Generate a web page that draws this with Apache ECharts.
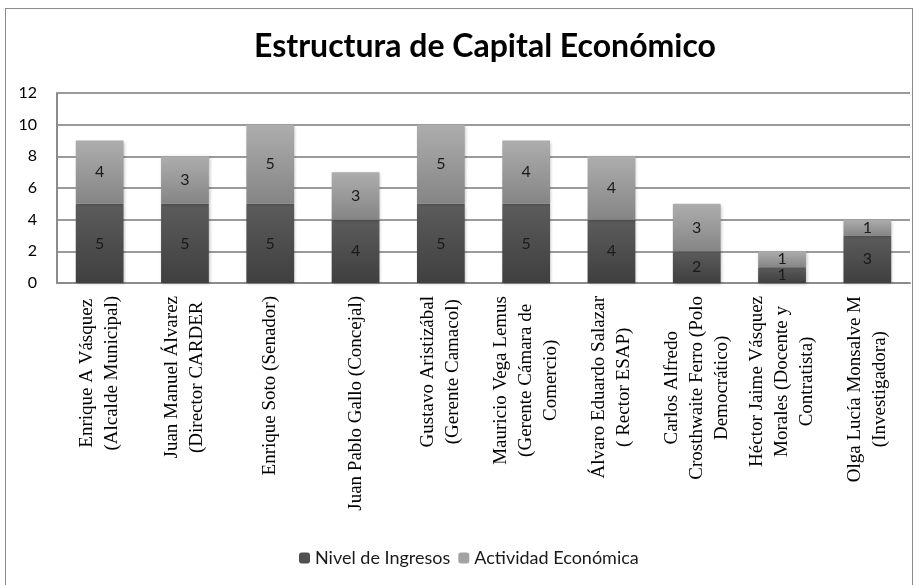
<!DOCTYPE html>
<html>
<head>
<meta charset="utf-8">
<script src="https://cdn.jsdelivr.net/npm/echarts@6/dist/echarts.min.js"></script>
<style>
  body { margin: 0; background: #fff; }
  #frame { position: absolute; left: 5px; top: 8px; width: 906px; height: 590px; border: 1px solid #8c8c8c; }
  #chart { position: absolute; left: 0; top: 0; width: 919px; height: 585px; }
</style>
</head>
<body>
<div id="frame"></div>
<div id="chart"></div>
<script>
// etiquetas de las categorias (una linea por elemento)
const categories = [
  ['Enrique A Vásquez', '(Alcalde Municipal)'],
  ['Juan Manuel Álvarez', '(Director CARDER'],
  ['Enrique Soto (Senador)'],
  ['Juan Pablo Gallo (Concejal)'],
  ['Gustavo Aristizábal', '(Gerente Camacol)'],
  ['Mauricio Vega Lemus', '(Gerente Cámara de', 'Comercio)'],
  ['Álvaro Eduardo Salazar', '( Rector ESAP)'],
  ['Carlos Alfredo', 'Crosthwaite Ferro (Polo', 'Democrático)'],
  ['Héctor Jaime Vásquez', 'Morales (Docente y', 'Contratista)'],
  ['Olga Lucía Monsalve M', '(Investigadora)']
];
const nivelIngresos = [5, 5, 5, 4, 5, 5, 4, 2, 1, 3];
const actividadEconomica = [4, 3, 5, 3, 5, 4, 4, 3, 1, 1];
const yTicks = [0, 2, 4, 6, 8, 10, 12];

const chart = echarts.init(document.getElementById('chart'));

const dataLabel = {
  show: true,
  position: 'inside',
  color: '#1a1a1a',
  fontFamily: 'Lato',
  fontSize: 16
};

const option = {
  animation: false,
  title: {
    text: 'Estructura de Capital Económico',
    left: 249,
    top: 26,
    textStyle: { fontFamily: 'Lato', fontWeight: 'bold', fontSize: 32, color: '#000' }
  },
  legend: {
    bottom: 13,
    left: 294,
    itemWidth: 11,
    itemHeight: 11,
    itemGap: 8,
    textStyle: { fontFamily: 'Lato', fontSize: 18, color: '#1a1a1a' },
    data: [
      { name: 'Nivel de Ingresos', itemStyle: { color: '#505050' } },
      { name: 'Actividad Económica', itemStyle: { color: '#a3a3a3' } }
    ]
  },
  grid: { left: 57, right: 9, top: 93, bottom: 302 },
  xAxis: {
    type: 'category',
    data: categories.map(c => c.join('\n')),
    axisLine: { lineStyle: { color: '#8c8c8c', width: 2 } },
    axisTick: { show: false },
    axisLabel: {
      interval: 0,
      rotate: 90,
      margin: 13,
      formatter: v => v.split('\n').map(l => '{c|' + l + '}').join('\n'),
      rich: {
        c: { align: 'center', fontFamily: 'Liberation Serif', fontSize: 19, lineHeight: 25, color: '#000' }
      }
    }
  },
  yAxis: {
    type: 'value',
    min: yTicks[0],
    max: yTicks[yTicks.length - 1],
    interval: 2,
    axisLine: { show: true, lineStyle: { color: '#8c8c8c', width: 2 } },
    axisTick: { show: false },
    axisLabel: { color: '#000', fontFamily: 'Lato', fontSize: 16, margin: 20 },
    splitLine: { lineStyle: { color: '#9a9a9a', width: 2 } }
  },
  series: [
    {
      name: 'Nivel de Ingresos',
      type: 'bar',
      stack: 'total',
      barWidth: '56%',
      data: nivelIngresos,
      label: dataLabel,
      itemStyle: {
        color: new echarts.graphic.LinearGradient(0, 0, 0, 1, [
          { offset: 0, color: '#5c5c5c' },
          { offset: 1, color: '#3f3f3f' }
        ]),
        shadowColor: 'rgba(0,0,0,0.25)',
        shadowBlur: 3,
        shadowOffsetX: 1,
        shadowOffsetY: 1
      }
    },
    {
      name: 'Actividad Económica',
      type: 'bar',
      stack: 'total',
      barWidth: '56%',
      data: actividadEconomica,
      label: dataLabel,
      itemStyle: {
        color: new echarts.graphic.LinearGradient(0, 0, 0, 1, [
          { offset: 0, color: '#adadad' },
          { offset: 1, color: '#858585' }
        ]),
        shadowColor: 'rgba(0,0,0,0.25)',
        shadowBlur: 3,
        shadowOffsetX: 1,
        shadowOffsetY: 1
      }
    }
  ]
};

chart.setOption(option);
</script>
</body>
</html>
